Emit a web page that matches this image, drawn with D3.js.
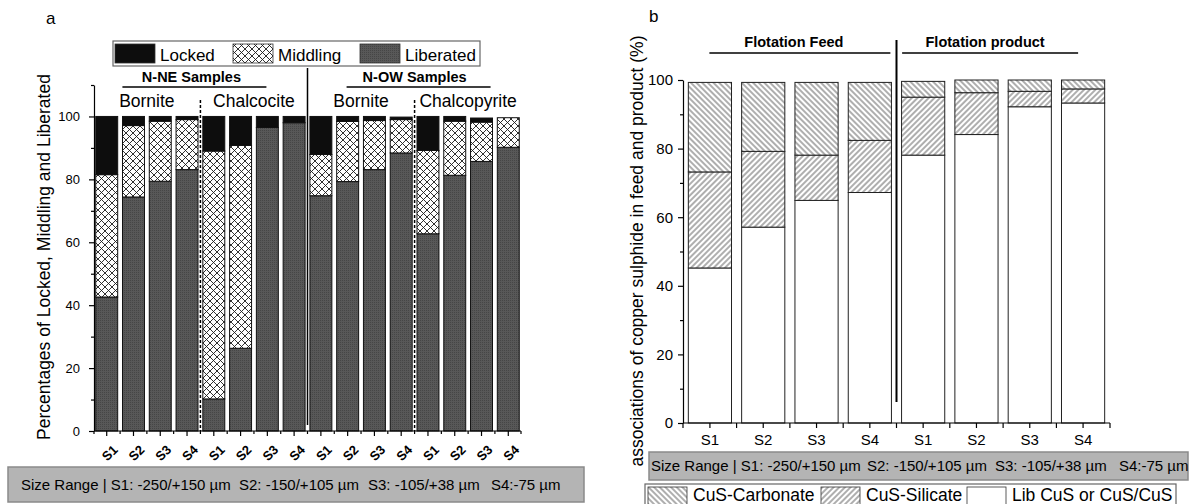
<!DOCTYPE html>
<html>
<head>
<meta charset="utf-8">
<script src="https://cdn.jsdelivr.net/npm/d3@7"></script>
<style>
	body { margin: 0; background: #fff; }
	svg { display: block; font-family: "Liberation Sans", Arial, sans-serif; }
</style>
</head>
<body>
<svg id="chart" width="1189" height="504"></svg>
<script>
// data
const sizeLabels = ['S1', 'S2', 'S3', 'S4'];
const leftGroups = ['N-NE Samples', 'N-OW Samples'];
const leftMinerals = ['Bornite', 'Chalcocite', 'Bornite', 'Chalcopyrite'];
const leftKeys = ['Liberated', 'Middling', 'Locked'];
const leftLiberated = [42.6, 74.4, 79.4, 83.1, 10.2, 26.3, 96.5, 98.0, 74.8, 79.3, 83.1, 88.4, 62.7, 81.3, 85.7, 90.2];
const leftMiddling = [38.9, 22.7, 19.1, 15.9, 78.8, 64.5, 0, 0, 13.1, 19.1, 15.6, 10.6, 26.5, 17.2, 12.5, 9.4];
const leftLocked = [18.5, 2.9, 1.5, 1.0, 11.0, 9.2, 3.5, 2.0, 12.1, 1.6, 1.3, 0.8, 10.8, 1.5, 1.3, 0.0];

const rightStreams = ['Flotation Feed', 'Flotation product'];
const rightKeys = ['Lib CuS or CuS/CuS', 'CuS-Silicate', 'CuS-Carbonate'];
const rightLiberated = [45.2, 57.1, 64.9, 67.2, 78.1, 84.1, 92.2, 93.3];
const rightSilicate = [28.0, 22.1, 13.2, 15.2, 16.9, 12.2, 4.5, 4.1];
const rightCarbonate = [26.1, 20.1, 21.2, 16.9, 4.6, 3.7, 3.3, 2.6];
const rightLegend = ['CuS-Carbonate', 'CuS-Silicate', 'Lib CuS or CuS/CuS'];

const yTicksMajor = [0, 20, 40, 60, 80, 100];
const leftYMinor = [10, 30, 50, 70, 90, 110];
const rightYMinor = [10, 30, 50, 70, 90];
const sizeRange = ['Size Range | S1: -250/+150 µm', 'S2: -150/+105 µm', 'S3: -105/+38 µm', 'S4:-75 µm'];

const FONT = '"Liberation Sans", Arial, sans-serif';
const svg = d3.select('#chart');

// patterns
const defs = svg.append('defs');
const xh = defs.append('pattern').attr('id', 'xhatch').attr('patternUnits', 'userSpaceOnUse')
	.attr('width', 7).attr('height', 7);
xh.append('rect').attr('width', 7).attr('height', 7).attr('fill', '#fff');
xh.append('path').attr('d', 'M0,0L7,7M7,0L0,7M-1,6L1,8M6,-1L8,1')
	.attr('stroke', '#1a1a1a').attr('stroke-width', 0.9);

const lib = defs.append('pattern').attr('id', 'libtex').attr('patternUnits', 'userSpaceOnUse')
	.attr('width', 2).attr('height', 2);
lib.append('rect').attr('width', 2).attr('height', 2).attr('fill', '#585858');
lib.append('rect').attr('width', 1).attr('height', 1).attr('fill', '#464646');

function hatch(id, angle) {
	const p = defs.append('pattern').attr('id', id).attr('patternUnits', 'userSpaceOnUse')
		.attr('width', 4).attr('height', 4).attr('patternTransform', `rotate(${angle})`);
	p.append('rect').attr('width', 4).attr('height', 4).attr('fill', '#fff');
	p.append('path').attr('d', 'M2,0V4').attr('stroke', '#333').attr('stroke-width', 0.8);
}
hatch('back', -45);
hatch('fwd', 45);

const leftFill = { Liberated: 'url(#libtex)', Middling: 'url(#xhatch)', Locked: '#0d0d0d' };
const rightFill = { 'Lib CuS or CuS/CuS': '#fff', 'CuS-Silicate': 'url(#fwd)', 'CuS-Carbonate': 'url(#back)' };

function styleAxis(g, size) {
	g.attr('font-family', FONT).attr('font-size', size);
	g.selectAll('path, line').attr('stroke', '#000').attr('stroke-width', 1.2);
	g.selectAll('text').attr('fill', '#000');
}

// ---------- LEFT PANEL ----------
const rowsL = d3.range(16).map((i) => ({
	i,
	Liberated: leftLiberated[i],
	Middling: leftMiddling[i],
	Locked: leftLocked[i],
}));
const xL = d3.scaleBand().domain(d3.range(16)).range([94, 521]).paddingInner(0.18).paddingOuter(0.065);
const yL = d3.scaleLinear().domain([0, 110]).range([431, 85]);
const stackL = d3.stack().keys(leftKeys)(rowsL);

const gL = svg.append('g');
gL.selectAll('g.series')
	.data(stackL)
	.enter()
	.append('g')
	.attr('fill', (s) => leftFill[s.key])
	.selectAll('rect')
	.data((s) => s.filter((d) => d[1] - d[0] > 0))
	.enter()
	.append('rect')
	.attr('x', (d) => xL(d.data.i))
	.attr('y', (d) => yL(d[1]))
	.attr('width', xL.bandwidth())
	.attr('height', (d) => yL(d[0]) - yL(d[1]))
	.attr('stroke', '#111')
	.attr('stroke-width', 1);

// y axis
gL.append('g').attr('transform', `translate(${xL.range()[0]},0)`)
	.call(d3.axisLeft(yL).tickValues(yTicksMajor).tickSize(5).tickSizeOuter(0).tickPadding(9))
	.call((g) => styleAxis(g, 13));
gL.append('g').attr('transform', `translate(${xL.range()[0]},0)`)
	.call(d3.axisLeft(yL).tickValues(leftYMinor).tickSize(3).tickFormat(''))
	.call((g) => { styleAxis(g, 13); g.select('.domain').remove(); });

// x axis
const halfGapL = (xL.step() * xL.paddingInner()) / 2;
const boundsL = d3.range(17).map((i) => (i === 0 ? xL.range()[0] : i === 16 ? xL.range()[1] : xL(i) - halfGapL));
gL.append('line').attr('x1', xL.range()[0]).attr('x2', xL.range()[1])
	.attr('y1', yL(0)).attr('y2', yL(0)).attr('stroke', '#000').attr('stroke-width', 1.2);
gL.selectAll('line.maj').data(d3.range(16)).enter().append('line')
	.attr('x1', (i) => xL(i) + xL.bandwidth() / 2).attr('x2', (i) => xL(i) + xL.bandwidth() / 2)
	.attr('y1', yL(0)).attr('y2', yL(0) + 5).attr('stroke', '#000').attr('stroke-width', 1.2);
gL.selectAll('line.min').data(boundsL).enter().append('line')
	.attr('x1', (b) => b).attr('x2', (b) => b)
	.attr('y1', yL(0)).attr('y2', yL(0) + 3).attr('stroke', '#000').attr('stroke-width', 1.2);
gL.selectAll('text.xl').data(d3.range(16)).enter().append('text')
	.attr('transform', (i) => `translate(${xL(i) + xL.bandwidth() / 2 + 3},453) rotate(-45)`)
	.attr('text-anchor', 'middle').attr('dominant-baseline', 'central')
	.attr('font-size', 13).attr('font-weight', 'bold')
	.text((i) => sizeLabels[i % 4]);

// separators
[4, 12].forEach((i) => {
	gL.append('line').attr('x1', xL(i) - halfGapL).attr('x2', xL(i) - halfGapL)
		.attr('y1', 100).attr('y2', yL(0))
		.attr('stroke', '#000').attr('stroke-width', 1.5).attr('stroke-dasharray', '3,2');
});
gL.append('line').attr('x1', xL(8) - halfGapL).attr('x2', xL(8) - halfGapL)
	.attr('y1', 68).attr('y2', 425).attr('stroke', '#000').attr('stroke-width', 1.5);

// group labels
const groupDx = [-9, 0];
const lineDx = [-6, 4];
leftGroups.forEach((name, gi) => {
	const c = (xL(gi * 8) + xL(gi * 8 + 7) + xL.bandwidth()) / 2;
	gL.append('text').attr('x', c + groupDx[gi]).attr('y', 82)
		.attr('text-anchor', 'middle').attr('font-weight', 'bold').attr('font-size', 14.5)
		.text(name);
	gL.append('line').attr('x1', c + lineDx[gi] - 72).attr('x2', c + lineDx[gi] + 72)
		.attr('y1', 87).attr('y2', 87).attr('stroke', '#000').attr('stroke-width', 1.4);
});
leftMinerals.forEach((name, mi) => {
	const c = (xL(mi * 4) + xL(mi * 4 + 3) + xL.bandwidth()) / 2;
	gL.append('text').attr('x', c).attr('y', 107)
		.attr('text-anchor', 'middle').attr('font-size', 17.5).text(name);
});

// legend
const legL = gL.append('g');
legL.append('rect').attr('x', 113).attr('y', 41).attr('width', 367).attr('height', 25)
	.attr('fill', '#fff').attr('stroke', '#666').attr('stroke-width', 1.2);
const legLX = [115, 233, 360];
['Locked', 'Middling', 'Liberated'].forEach((k, i) => {
	legL.append('rect').attr('x', legLX[i]).attr('y', 44).attr('width', 40).attr('height', 19)
		.attr('fill', leftFill[k]).attr('stroke', '#333').attr('stroke-width', 0.8);
	legL.append('text').attr('x', legLX[i] + 45).attr('y', 61).attr('font-size', 17).text(k);
});

svg.append('text').attr('x', 46).attr('y', 24).attr('font-size', 17).text('a');
svg.append('text').attr('transform', 'translate(44,257) rotate(-90)')
	.attr('text-anchor', 'middle').attr('dominant-baseline', 'central')
	.attr('font-size', 17.5).text('Percentages of Locked, Middling and Liberated');

// size range box (left)
svg.append('rect').attr('x', 8).attr('y', 467).attr('width', 576).attr('height', 35)
	.attr('fill', '#b4b4b4').attr('stroke', '#8a8a8a').attr('stroke-width', 1.5);
const srLX = [21, 239, 368, 491];
sizeRange.forEach((t, i) => {
	svg.append('text').attr('x', srLX[i]).attr('y', 490).attr('font-size', 15).text(t);
});

// ---------- RIGHT PANEL ----------
const rowsR = d3.range(8).map((i) => ({
	i,
	'Lib CuS or CuS/CuS': rightLiberated[i],
	'CuS-Silicate': rightSilicate[i],
	'CuS-Carbonate': rightCarbonate[i],
}));
const xR = d3.scaleBand().domain(d3.range(8)).range([683, 1110]).paddingInner(0.19).paddingOuter(0.1);
const yR = d3.scaleLinear().domain([0, 100]).range([423, 80]);
const stackR = d3.stack().keys(rightKeys)(rowsR);

const gR = svg.append('g');
gR.selectAll('g.series')
	.data(stackR)
	.enter()
	.append('g')
	.attr('fill', (s) => rightFill[s.key])
	.selectAll('rect')
	.data((s) => s)
	.enter()
	.append('rect')
	.attr('x', (d) => xR(d.data.i))
	.attr('y', (d) => yR(d[1]))
	.attr('width', xR.bandwidth())
	.attr('height', (d) => yR(d[0]) - yR(d[1]))
	.attr('stroke', '#222')
	.attr('stroke-width', 1);

gR.append('g').attr('transform', `translate(${xR.range()[0]},0)`)
	.call(d3.axisLeft(yR).tickValues(yTicksMajor).tickSize(5).tickSizeOuter(0).tickPadding(5))
	.call((g) => styleAxis(g, 15));
gR.append('g').attr('transform', `translate(${xR.range()[0]},0)`)
	.call(d3.axisLeft(yR).tickValues(rightYMinor).tickSize(3).tickFormat(''))
	.call((g) => { styleAxis(g, 15); g.select('.domain').remove(); });

const halfGapR = (xR.step() * xR.paddingInner()) / 2;
const boundsR = d3.range(9).map((i) => (i === 0 ? xR.range()[0] : i === 8 ? xR.range()[1] : xR(i) - halfGapR));
gR.append('line').attr('x1', xR.range()[0]).attr('x2', xR.range()[1])
	.attr('y1', yR(0)).attr('y2', yR(0)).attr('stroke', '#000').attr('stroke-width', 1.2);
gR.selectAll('line.tk').data(boundsR.concat(d3.range(8).map((i) => xR(i) + xR.bandwidth() / 2)))
	.enter().append('line')
	.attr('x1', (b) => b).attr('x2', (b) => b)
	.attr('y1', yR(0)).attr('y2', yR(0) + 5).attr('stroke', '#000').attr('stroke-width', 1.2);
gR.selectAll('text.xl').data(d3.range(8)).enter().append('text')
	.attr('x', (i) => xR(i) + xR.bandwidth() / 2).attr('y', 445)
	.attr('text-anchor', 'middle').attr('font-size', 15)
	.text((i) => sizeLabels[i % 4]);

// separator
gR.append('line').attr('x1', xR(4) - halfGapR).attr('x2', xR(4) - halfGapR)
	.attr('y1', 40).attr('y2', 402).attr('stroke', '#000').attr('stroke-width', 2);

const streamDx = [4, -18];
const streamLineDx = [10, -13];
const streamHalf = [90.5, 88];
rightStreams.forEach((name, gi) => {
	const c = (xR(gi * 4) + xR(gi * 4 + 3) + xR.bandwidth()) / 2;
	gR.append('text').attr('x', c + streamDx[gi]).attr('y', 47)
		.attr('text-anchor', 'middle').attr('font-weight', 'bold').attr('font-size', 14.5)
		.text(name);
	gR.append('line').attr('x1', c + streamLineDx[gi] - streamHalf[gi]).attr('x2', c + streamLineDx[gi] + streamHalf[gi])
		.attr('y1', 53).attr('y2', 53).attr('stroke', '#000').attr('stroke-width', 1.4);
});

svg.append('text').attr('x', 649).attr('y', 22).attr('font-size', 17).text('b');
svg.append('text').attr('transform', 'translate(637,251) rotate(-90)')
	.attr('text-anchor', 'middle').attr('dominant-baseline', 'central')
	.attr('font-size', 17.5).text('associations of copper sulphide in feed and product (%)');

// size range box (right)
svg.append('rect').attr('x', 649).attr('y', 452).attr('width', 539).attr('height', 28)
	.attr('fill', '#b4b4b4').attr('stroke', '#8a8a8a').attr('stroke-width', 1.5);
const srRX = [651, 867, 995, 1119];
sizeRange.forEach((t, i) => {
	svg.append('text').attr('x', srRX[i]).attr('y', 471).attr('font-size', 15).text(t);
});

// legend (right)
const legR = svg.append('g');
legR.append('rect').attr('x', 645).attr('y', 484).attr('width', 531).attr('height', 26)
	.attr('fill', '#fff').attr('stroke', '#666').attr('stroke-width', 1.2);
const legRX = [648, 821, 967];
rightLegend.forEach((k, i) => {
	legR.append('rect').attr('x', legRX[i]).attr('y', 487).attr('width', 39).attr('height', 20)
		.attr('fill', rightFill[k]).attr('stroke', '#333').attr('stroke-width', 0.8);
	legR.append('text').attr('x', legRX[i] + 45).attr('y', 501).attr('font-size', 17.5).text(k);
});
</script>
</body>
</html>
